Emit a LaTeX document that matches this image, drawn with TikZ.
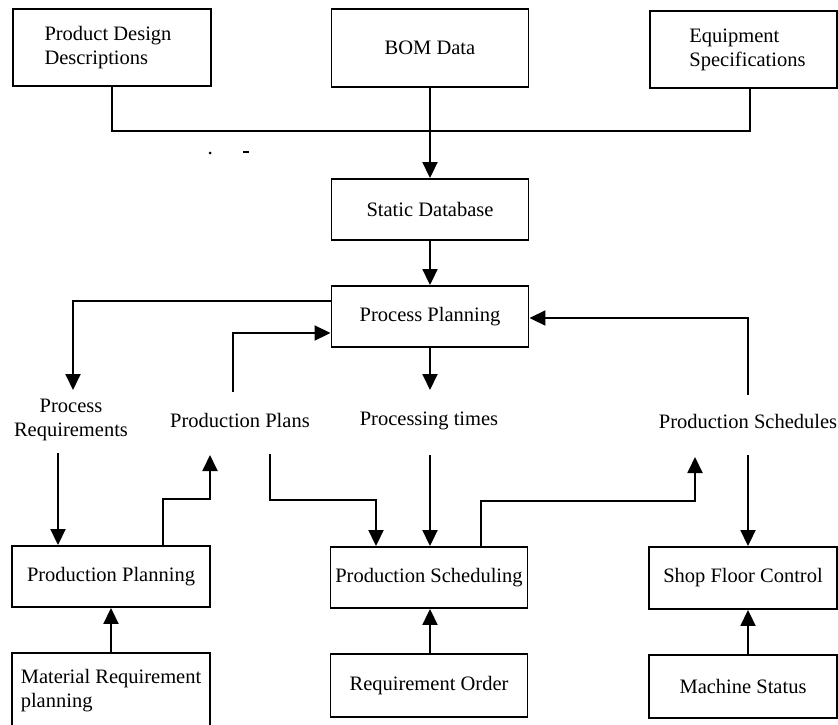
\documentclass[tikz,border=0pt]{standalone}
\usepackage{fontspec}
\setmainfont{Liberation Serif}
\usetikzlibrary{arrows.meta}
\begin{document}
\begin{tikzpicture}[x=1pt,y=-1pt,
  lbl/.style={font=\fontsize{20.5}{24}\selectfont, align=center, inner sep=0pt},
  box/.style={draw, line width=1.9pt, inner sep=0pt, align=center, font=\fontsize{20.5}{24}\selectfont},
  lbox/.style={box, align=left},
  conn/.style={line width=1.9pt},
  arr/.style={conn, -{Triangle[length=16pt,width=15pt]}}]
\useasboundingbox (0,0) rectangle (838,725);
\clip (0,0) rectangle (838,725);
% top row
\node[lbox, minimum width=198, minimum height=77] (pdd) at (112,47.5) {\hspace*{-8pt}Product Design\\\hspace*{-8pt}Descriptions};
\node[box, minimum width=197, minimum height=78] (bom) at (430,48) {BOM Data};
\node[lbox, minimum width=187, minimum height=77] (eq) at (743.5,49.5) {\hspace*{8pt}Equipment\\\hspace*{8pt}Specifications};
% middle
\node[box, minimum width=197, minimum height=61] (sdb) at (430,209.5) {Static Database};
\node[box, minimum width=197, minimum height=61] (pp) at (430,316.5) {Process Planning};
% labels
\node[lbl] (preq) at (71,420) {Process\\Requirements};
\node[lbl] (pplans) at (240,420) {Production Plans};
\node[lbl] (ptimes) at (429,421) {Processing times};
\node[lbl] (psched) at (748,421) {Production Schedules};
% lower boxes
\node[box, minimum width=198, minimum height=61] (prodplan) at (111,576.5) {Production Planning};
\node[box, minimum width=197, minimum height=61] (sched) at (429,577.5) {Production Scheduling};
\node[box, minimum width=188, minimum height=62] (sfc) at (743,578) {Shop Floor Control};
\node[lbox, minimum width=198, minimum height=76] (mrp) at (111,691) {Material Requirement\\planning};
\node[box, minimum width=197, minimum height=63] (ro) at (429,685.5) {Requirement Order};
\node[box, minimum width=188, minimum height=63] (ms) at (743,686.5) {Machine Status};
% helper coordinates
\coordinate (eqJ) at (750,131);
\coordinate (preqT) at (73,390);
\coordinate (preqB) at (58,453);
\coordinate (pplT) at (233,392);
\coordinate (pplB1) at (210,455);
\coordinate (pplB2) at (270,454);
\coordinate (ptT) at (430,390);
\coordinate (ptB) at (430,455);
\coordinate (psT) at (748,395);
\coordinate (psB1) at (695,457);
\coordinate (psB2) at (748,455);
% connectors
\draw[conn] (pdd.south) |- (eqJ) -- (eqJ |- eq.south);
\draw[arr] (bom.south) -- (sdb.north);
\draw[arr] (sdb.south) -- (pp.north);
\draw[arr] (pp.west |- 0,301) -| (preqT);
\draw[arr] (pplT) |- (pp.west |- 0,333);
\draw[arr] (pp.south -| ptT) -- (ptT);
\draw[arr] (psT) |- (pp.east |- 0,318);
\draw[arr] (preqB) -- (prodplan.north -| preqB);
\draw[arr] (prodplan.north -| 163,0) |- (pplB1 |- 0,499) -- (pplB1);
\draw[arr] (pplB2) |- (376,500) -- (sched.north -| 376,0);
\draw[arr] (ptB) -- (sched.north -| ptB);
\draw[arr] (sched.north -| 481,0) |- (psB1 |- 0,501) -- (psB1);
\draw[arr] (psB2) -- (sfc.north -| psB2);
\draw[arr] (mrp.north) -- (prodplan.south);
\draw[arr] (ro.north -| 430,0) -- (sched.south -| 430,0);
\draw[arr] (ms.north -| 748,0) -- (sfc.south -| 748,0);
% stray marks
\fill (210,153) circle (1.5);
\draw[line width=1.2pt] (243,152) -- (249,152);
\end{tikzpicture}
\end{document}
